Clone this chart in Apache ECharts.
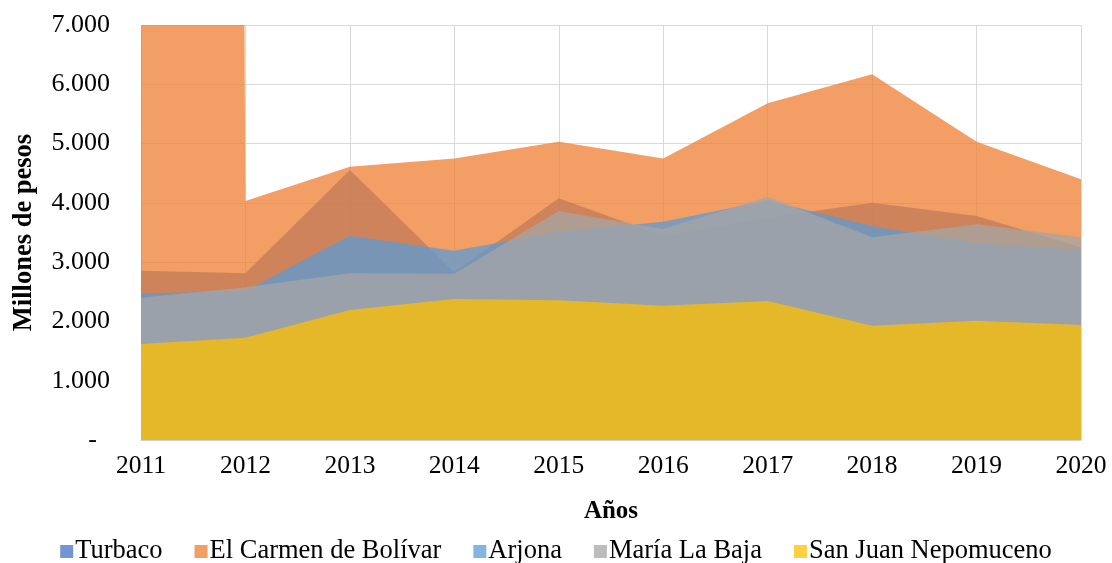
<!DOCTYPE html>
<html>
<head>
<meta charset="utf-8">
<script src="https://cdn.jsdelivr.net/npm/echarts@6/dist/echarts.min.js"></script>
<style>
html,body{margin:0;padding:0;background:#fff;}
#chart{width:1112px;height:563px;}
</style>
</head>
<body>
<div id="chart"></div>
<script>
const years = ['2011','2012','2013','2014','2015','2016','2017','2018','2019','2020'];
const turbaco = [2856, 2811, 4555, 2830, 4076, 3440, 3750, 4000, 3780, 3250];
const elCarmen = [320000, 4030, 4610, 4750, 5030, 4750, 5680, 6170, 5030, 4400];
const arjona = [2470, 2515, 3446, 3193, 3513, 3683, 4040, 3610, 3317, 3204];
const mariaLaBaja = [2400, 2575, 2811, 2805, 3862, 3559, 4105, 3418, 3640, 3418];
const sanJuan = [1619, 1726, 2193, 2378, 2356, 2265, 2344, 1928, 2012, 1940];
const seriesNames = ['Turbaco','El Carmen de Bolívar','Arjona','María La Baja','San Juan Nepomuceno'];
const seriesData = [turbaco, elCarmen, arjona, mariaLaBaja, sanJuan];
const colors = ['rgba(68,114,196,0.75)','rgba(237,125,49,0.75)','rgba(91,155,213,0.75)','rgba(165,165,165,0.75)','rgba(255,192,0,0.75)'];

const font = 'Liberation Serif';
const chart = echarts.init(document.getElementById('chart'), null, {renderer:'canvas'});
const option = {
  animation: false,
  grid: {left: 141, right: 31, top: 25, bottom: 123},
  legend: {
    top: 533, left: 'center',
    icon: 'rect', itemWidth: 13, itemHeight: 13, itemGap: 32,
    textStyle: {fontFamily: font, fontSize: 26.5, color: '#000', padding:[0,0,0,-3]},
    data: seriesNames.map((n,i)=>({name:n, itemStyle:{color:colors[i]}}))
  },
  xAxis: {
    type: 'category', data: years, boundaryGap: false,
    name: 'Años', nameLocation: 'middle', nameGap: 59,
    nameTextStyle: {fontFamily: font, fontSize: 25, fontWeight: 'bold', color: '#000'},
    axisLine: {lineStyle: {color: '#D0D0D0', width: 1}},
    axisTick: {show: false},
    axisLabel: {fontFamily: font, fontSize: 25.5, color: '#000', margin: 13},
    splitLine: {show: true, lineStyle: {color: '#D9D9D9', width: 1}}
  },
  yAxis: {
    type: 'value', min: 0, max: 7000, interval: 1000,
    name: 'Millones de pesos', nameLocation: 'middle', nameGap: 103, nameRotate: 90,
    nameTextStyle: {fontFamily: font, fontSize: 26.5, fontWeight: 'bold', color: '#000'},
    axisLine: {show: false}, axisTick: {show: false},
    axisLabel: {
      fontFamily: font, fontSize: 26, color: '#000', margin: 31,
      formatter: v => v === 0 ? '-  ' : String(v).replace(/\B(?=(\d{3})+(?!\d))/g, '.')
    },
    splitLine: {show: true, lineStyle: {color: '#D9D9D9', width: 1}}
  },
  series: seriesNames.map((n,i)=>({
    name: n, type: 'line', data: seriesData[i],
    symbol: 'none', clip: true,
    lineStyle: {width: 0},
    itemStyle: {color: colors[i]},
    areaStyle: {color: colors[i], opacity: 1}
  }))
};
chart.setOption(option);
</script>
</body>
</html>
